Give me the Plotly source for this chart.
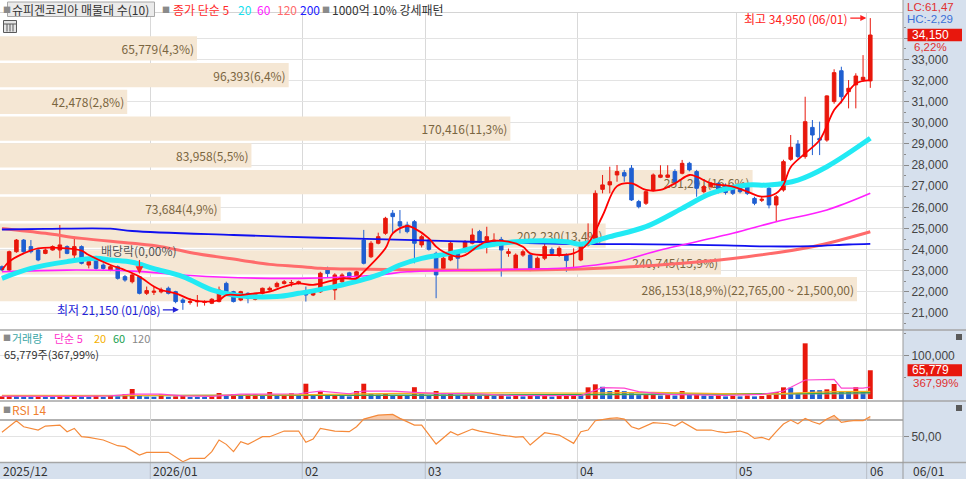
import numpy as np
import plotly.graph_objects as go

# ===================== DATA =====================
stock_name = "슈피겐코리아"
month_first_idx = [0, 21, 42, 59, 80, 102, 120]
month_labels = ["2025/12", "2026/01", "02", "03", "04", "05", "06"]
last_date_label = "06/01"
low_date_label = "01/08"
ex_div_idx = 19
lc_pct = 61.47
hc_pct = -2.29
vol_ratio_pct = 367.99

opens = [23190, 23030, 23900, 24450, 24140, 23980, 23820, 23980, 23980, 24140,
         23740, 24140, 23270, 23660, 23270, 23030, 23190, 22720, 22480, 22720,
         21930, 21980, 22000, 22170, 22010, 21615, 21500, 21530, 21500, 21460,
         21540, 22400, 22010, 21615, 21930, 21650, 21930, 22090, 22245, 22400,
         22420, 22400, 22010, 21850, 22000, 23030, 22090, 22480, 22900, 22720,
         24450, 23660, 24300, 24770, 25720, 25320, 25160, 25320, 24220, 24450,
         23820, 23110, 23510, 23820, 23900, 24300, 24850, 24140, 24220, 24480,
         23820, 23110, 23740, 23740, 23110, 23590, 24010, 23740, 23740, 23100,
         23510, 24220, 24300, 26850, 27060, 27530, 27640, 27850, 26270, 26190,
         26820, 27420, 27420, 27690, 27610, 28080, 27690, 26740, 26980, 27130,
         27010, 26980, 26980, 27060, 26420, 26330, 26900, 26110, 26820, 28270,
         28990, 28400, 29780, 29260, 29180, 31000, 32460, 31470, 31790, 32020,
         31980]
highs = [23250, 23950, 24500, 24500, 24450, 24050, 24050, 24200, 25160, 24200,
         24610, 24200, 23510, 23700, 23350, 23270, 23250, 22800, 22880, 22750,
         22250, 22250, 22200, 22250, 22050, 21700, 21700, 21850, 21600, 21700,
         22250, 22480, 22050, 22050, 21980, 21950, 22200, 22250, 22480, 22560,
         22560, 22530, 22250, 22100, 22950, 23190, 22880, 22880, 22950, 23000,
         24930, 24400, 24800, 25550, 25870, 25870, 25320, 25400, 24700, 24530,
         23900, 23650, 24400, 23900, 24450, 25000, 24930, 25080, 24770, 24600,
         24050, 23820, 24000, 23820, 23670, 24300, 24100, 24150, 23820, 24060,
         24300, 25240, 26800, 27530, 27920, 28000, 27770, 28000, 26350, 26800,
         27600, 27990, 27990, 27800, 28240, 28150, 27770, 27050, 27200, 27200,
         27130, 27060, 27050, 27130, 26500, 26500, 26980, 26580, 28250, 29420,
         29180, 31230, 30130, 30050, 31300, 32530, 32650, 32020, 32340, 33200,
         34950]
lows = [22980, 22980, 23850, 23850, 23820, 23450, 23780, 23950, 23590, 23780,
        23510, 23300, 23110, 23050, 23050, 22980, 22580, 22480, 22400, 21880,
        21850, 21850, 21930, 21880, 21460, 21150, 21400, 21300, 21350, 21420,
        21500, 21850, 21500, 21560, 21460, 21600, 21880, 22050, 22200, 22350,
        22250, 22350, 21540, 21800, 21950, 22690, 21620, 22400, 22600, 22650,
        23300, 23600, 24250, 24700, 24770, 24770, 24770, 23350, 24100, 23950,
        21700, 23050, 23450, 23030, 23850, 24250, 24300, 23820, 24150, 22720,
        23660, 23030, 23660, 22980, 23050, 23500, 23700, 23660, 22950, 23030,
        23450, 24150, 24250, 26660, 26660, 27210, 27210, 26300, 25950, 26110,
        26760, 27380, 27380, 27150, 27560, 27700, 26500, 26660, 26900, 26660,
        26600, 26580, 26660, 26580, 26100, 26250, 25950, 25320, 26740, 28200,
        28320, 28300, 28470, 28470, 29100, 30900, 30920, 30680, 30680, 31950,
        31650]
closes = [23040, 23900, 24450, 23900, 23900, 23510, 23980, 24140, 24220, 23820,
          24140, 23350, 23430, 23110, 23110, 23190, 22640, 22560, 22800, 21930,
          22060, 22030, 22090, 21930, 21540, 21500, 21540, 21560, 21530, 21650,
          22090, 22010, 21540, 22010, 21690, 21930, 22170, 22170, 22400, 22480,
          22440, 22480, 21850, 22010, 22880, 22870, 22800, 22800, 22690, 22950,
          23350, 24300, 24610, 25480, 25560, 25115, 24850, 24300, 24610, 24010,
          22800, 23590, 24300, 23590, 24370, 24690, 24370, 24610, 24450, 23980,
          23900, 23740, 23900, 23030, 23590, 24140, 23820, 24060, 23480, 23150,
          24220, 24370, 26660, 27060, 27210, 27690, 27480, 26350, 26030, 26740,
          27530, 27530, 27530, 27210, 28080, 27770, 26900, 26980, 27130, 26740,
          26700, 26660, 26740, 26660, 26190, 26380, 26110, 26500, 28160, 28840,
          28400, 30050, 29420, 29180, 31270, 32370, 31230, 31630, 32210, 32150,
          34150]
volumes = [6000, 9000, 6500, 5000, 4000, 5000, 3500, 3000, 9000, 4000,
           7000, 5500, 4000, 8000, 4500, 9000, 6000, 11400, 22900, 8000,
           5500, 5000, 10700, 5000, 6000, 7000, 4500, 4000, 3500, 6000,
           13700, 8000, 11400, 9000, 11400, 11400, 9000, 16000, 8000, 9500,
           13000, 7000, 35000, 9000, 18300, 7000, 9000, 8000, 6000, 18300,
           35000, 12000, 10000, 12000, 8000, 9000, 8000, 27000, 11000, 9000,
           18300, 10000, 12000, 8000, 9000, 10000, 7000, 9000, 7000, 10000,
           6000, 8000, 6000, 9000, 7000, 8000, 5500, 7000, 8000, 10000,
           9000, 26700, 33600, 28000, 18300, 20600, 18000, 13000, 9000, 10000,
           12000, 8000, 9000, 8000, 18300, 10000, 11000, 8000, 7000, 9000,
           6000, 7000, 6000, 8000, 6000, 7000, 9000, 16000, 26700, 26000,
           13000, 127400, 20600, 20200, 22100, 34300, 18300, 17800, 27000, 17875,
           65779]

ma5_idx = [0, 1, 3, 5, 9, 11, 12, 15, 17, 19, 21, 22, 24, 26, 28, 30, 31, 33, 35, 37,
           39, 41, 43, 47, 49, 50, 53, 54, 56, 57, 59, 60, 61, 63, 64, 66, 67, 70, 72, 73,
           76, 79, 81, 83, 85, 87, 89, 91, 93, 95, 96, 98, 101, 103, 105, 107, 108, 109, 111, 113,
           115, 116, 118, 120]
ma5_val = [23030, 23430, 23820, 24060, 24060, 23950, 23740, 23270, 23030, 22720,
           22250, 22088, 21930, 21650, 21540, 21615, 21850, 21850, 21930, 22010,
           22245, 22403, 22330, 22640, 22640, 22950, 24060, 24770, 25115, 25005,
           24530, 24140, 23900, 23664, 23740, 24216, 24374, 24374, 24138, 23822,
           23743, 23822, 24300, 25600, 27000, 27134, 26819, 26819, 27134, 27528,
           27450, 27134, 26976, 26740, 26503, 26661, 27055, 27900, 28550, 29180,
           30600, 31000, 31860, 32020]
ma20_idx = [0, 4, 9, 13, 15, 18, 21, 25, 29, 32, 38, 41, 46, 52, 55, 58, 62, 66, 71, 78,
            80, 84, 89, 94, 98, 103, 106, 110, 114, 120]
ma20_val = [22640, 23110, 23430, 23590, 23510, 23400, 23100, 22720, 22090, 21850,
            21780, 21930, 22245, 22800, 23270, 23585, 23820, 24136, 24370, 24370,
            24250, 24610, 25083, 25950, 26660, 27055, 27055, 27290, 27920, 29263]
ma60_idx = [0, 9, 18, 25, 30, 41, 52, 56, 66, 78, 80, 85, 91, 101, 107, 114, 120]
ma60_val = [22950, 23030, 22980, 22800, 22700, 22640, 22800, 22950, 23034, 23128,
            23191, 23420, 23980, 24770, 25320, 25872, 26660]
ma120_idx = [0, 6, 11, 18, 22, 27, 33, 37, 41, 44, 48, 60, 73, 80, 85, 94, 103, 112, 120]
ma120_val = [25000, 24770, 24530, 24300, 24140, 23800, 23500, 23300, 23200, 23113,
             23080, 23034, 23034, 23080, 23150, 23350, 23665, 24136, 24846]
ma200_idx = [0, 6, 15, 18, 32, 44, 57, 65, 74, 80, 90, 100, 106, 112, 117, 120]
ma200_val = [24950, 24980, 24990, 24880, 24690, 24560, 24450, 24370, 24300, 24260,
             24250, 24200, 24150, 24160, 24240, 24270]

vma5_idx = [0, 5, 10, 15, 18, 22, 25, 29, 33, 38, 41, 44, 48, 50, 54, 57, 60, 66, 70, 75,
            80, 83, 86, 88, 92, 100, 105, 108, 111, 115, 116, 119, 120]
vma5_val = [6500, 6000, 6000, 7000, 11400, 11000, 7000, 6000, 11000, 11400,
            12000, 18000, 12000, 18300, 18000, 15000, 13000, 12000, 8000, 7500,
            8000, 26000, 25000, 16800, 10700, 8000, 10700, 18300, 43500, 45000,
            25000, 25000, 27500]
vma20_idx = [0, 20, 40, 55, 70, 80, 90, 100, 105, 110, 115, 120]
vma20_val = [8500, 8000, 9500, 13000, 14000, 13500, 15000, 11000, 10700, 14000, 16800, 17500]
vma60_idx = [0, 30, 60, 90, 105, 110, 120]
vma60_val = [7000, 7500, 9000, 11000, 11500, 12500, 14500]
vma120_idx = [0, 60, 120]
vma120_val = [7500, 8500, 12000]

rsi_idx = [0, 2, 3, 5, 6, 8, 9, 10, 11, 12, 14, 16, 17, 19, 20, 23, 25, 26, 28, 29,
           30, 31, 32, 33, 34, 36, 37, 39, 41, 42, 43, 44, 46, 48, 49, 50, 52, 54, 55, 57,
           58, 60, 62, 63, 65, 66, 69, 71, 72, 73, 75, 77, 79, 80, 81, 82, 84, 85, 86, 87,
           88, 90, 92, 93, 94, 96, 98, 99, 100, 102, 103, 104, 105, 106, 107, 108, 109, 110, 111, 112,
           113, 114, 115, 116, 117, 118, 119, 120]
rsi_val = [55.3, 69.2, 62, 58, 62.8, 64, 56, 60, 50, 49.2, 46, 39.2, 38, 28, 31.2, 31.2, 20, 24, 24, 32,
           46, 40.8, 32, 44, 40.8, 50, 50, 56.8, 56.8, 43.2, 47.2, 60, 56.8, 56, 62, 71.2, 76, 76.8, 72, 64,
           64, 41.2, 56, 52, 59.2, 56.8, 52, 49.6, 50, 40, 54.8, 52, 42, 56, 58, 69.2, 72, 72.8, 71.2, 62,
           59.2, 66.8, 65.6, 62.8, 68, 58, 58, 56, 55, 56.8, 54, 48, 49.2, 46.4, 56, 65.2, 70, 65.6, 72, 68,
           65.2, 71.2, 75.6, 67.2, 68.8, 69.6, 69.2, 74.4]

profile_lo = [21500, 22765, 24030, 25295, 26560, 27825, 29090, 30355, 31620, 32885]
profile_hi = [22765, 24030, 25295, 26560, 27825, 29090, 30355, 31620, 32885, 34150]
profile_vol = [286153, 240745, 202230, 73684, 251291, 83958, 170416, 42478, 96393, 65779]
profile_pct = [18.9, 15.9, 13.4, 4.9, 16.6, 5.5, 11.3, 2.8, 6.4, 4.3]

price_ticks = list(range(21000, 34001, 1000))
vol_ticks = [100000]
rsi_ticks = [50]
rsi_upper = 70

# ===================== HELPERS =====================
PW, PH = 903.0, 463.0
def X(px):
    return px / PW
def Y(py):
    return (PH - py) / PH
def kfmt(v, d):
    return f"{v:,.{d}f}".replace(".", "#").replace("#", ",") if d else f"{v:,}"

UP = "#e8180c"
DN = "#1f5fd1"
FONT = "Noto Sans CJK KR, DejaVu Sans"
NUMF = "Liberation Sans, Noto Sans CJK KR"
idx = list(range(len(closes)))
XR = [-0.27, 124.52]

fig = go.Figure()

# base subplot (x, y): invisible anchor trace
fig.add_trace(go.Scatter(x=[idx[0]], y=[closes[0]], mode="markers", marker=dict(opacity=0),
                         xaxis="x", yaxis="y", hoverinfo="skip"))

# volume profile (overlay axis x2, drawn below candles on x3)
imax = int(np.argmax(profile_vol))
p_lab, p_mid, p_h = [], [], []
for k, (lo, hi, v, p) in enumerate(zip(profile_lo, profile_hi, profile_vol, profile_pct)):
    s = f"{v:,}({kfmt(p, 1)}%)"
    if k == imax:
        s += f"({hi:,},00 ~ {lo:,},00)"
    p_lab.append(s)
    p_mid.append((lo + hi) / 2)
    p_h.append((hi - lo) * 0.91)
fig.add_trace(go.Bar(x=profile_vol, y=p_mid, width=p_h, orientation="h", base=0,
                     marker=dict(color="#f5e7d4", line=dict(width=0)),
                     text=p_lab, textposition="inside", insidetextanchor="end", textangle=0,
                     constraintext="none", insidetextfont=dict(size=12, color="#7a6540", family=FONT),
                     xaxis="x2", yaxis="y", hoverinfo="skip"))

# moving averages (price)
fig.add_trace(go.Scatter(x=ma120_idx, y=ma120_val, mode="lines", line=dict(color="#ff6b6b", width=3, shape="spline"),
                         xaxis="x3", yaxis="y", hoverinfo="skip"))
fig.add_trace(go.Scatter(x=ma200_idx, y=ma200_val, mode="lines", line=dict(color="#1010f0", width=1.8, shape="spline"),
                         xaxis="x3", yaxis="y", hoverinfo="skip"))
fig.add_trace(go.Scatter(x=ma60_idx, y=ma60_val, mode="lines", line=dict(color="#ff20ff", width=1.6, shape="spline"),
                         xaxis="x3", yaxis="y", hoverinfo="skip"))
fig.add_trace(go.Scatter(x=ma20_idx, y=ma20_val, mode="lines", line=dict(color="#22eaf4", width=5, shape="spline"),
                         xaxis="x3", yaxis="y", hoverinfo="skip"))

fig.add_trace(go.Candlestick(x=idx, open=opens, high=highs, low=lows, close=closes,
                             increasing=dict(line=dict(color=UP, width=1), fillcolor=UP),
                             decreasing=dict(line=dict(color=DN, width=1), fillcolor=DN),
                             whiskerwidth=0, xaxis="x3", yaxis="y", hoverinfo="skip"))

fig.add_trace(go.Scatter(x=ma5_idx, y=ma5_val, mode="lines", line=dict(color="#ff0000", width=1.8, shape="spline"),
                         xaxis="x3", yaxis="y", hoverinfo="skip"))

# volume
vcolors = [UP if (i == 0 or volumes[i] >= volumes[i - 1]) else DN for i in idx]
fig.add_trace(go.Bar(x=idx, y=volumes, marker=dict(color=vcolors, line=dict(width=0)), width=0.68,
                     xaxis="x", yaxis="y2", hoverinfo="skip"))
for vi, vv, vc in [(vma120_idx, vma120_val, "#9a9a9a"), (vma60_idx, vma60_val, "#2fa84f"),
                   (vma20_idx, vma20_val, "#f5b01e"), (vma5_idx, vma5_val, "#ff44d0")]:
    fig.add_trace(go.Scatter(x=vi, y=vv, mode="lines", line=dict(color=vc, width=1.2),
                             xaxis="x", yaxis="y2", hoverinfo="skip"))

# RSI
fig.add_trace(go.Scatter(x=rsi_idx, y=[rsi_upper] * len(rsi_idx), mode="lines", line=dict(width=0),
                         xaxis="x", yaxis="y3", hoverinfo="skip"))
fig.add_trace(go.Scatter(x=rsi_idx, y=np.maximum(np.array(rsi_val), rsi_upper), mode="lines", line=dict(width=0),
                         fill="tonexty", fillcolor="rgba(240,140,70,0.45)", xaxis="x", yaxis="y3", hoverinfo="skip"))
fig.add_trace(go.Scatter(x=rsi_idx, y=rsi_val, mode="lines", line=dict(color="#f58a3a", width=1.2),
                         xaxis="x", yaxis="y3", hoverinfo="skip"))

# ===================== SHAPES =====================
shapes = []
PANEL = "#d6e0ed"
shapes.append(dict(type="rect", xref="paper", yref="paper", x0=1, x1=966 / PW, y0=Y(479), y1=1,
                   fillcolor=PANEL, line=dict(width=0), layer="below"))
shapes.append(dict(type="rect", xref="paper", yref="paper", x0=0, x1=1, y0=Y(479), y1=Y(463),
                   fillcolor=PANEL, line=dict(width=0), layer="below"))

# RSI upper line
shapes.append(dict(type="line", xref="x", yref="y3", x0=XR[0], x1=XR[1], y0=rsi_upper, y1=rsi_upper,
                   line=dict(color="#b2b2b2", width=2), layer="below"))

# month separators in date strip
for m in month_first_idx[1:]:
    shapes.append(dict(type="line", xref="x", yref="paper", x0=m - 0.5, x1=m - 0.5, y0=Y(479), y1=Y(463),
                       line=dict(color="#b8bec8", width=1)))

# panel separators
for yy in [330, 401, 462.5]:
    shapes.append(dict(type="line", xref="paper", yref="paper", x0=0, x1=966 / PW, y0=Y(yy), y1=Y(yy),
                       line=dict(color="#a6a6a6", width=1.6)))
shapes.append(dict(type="line", xref="paper", yref="paper", x0=0, x1=1, y0=Y(12.5), y1=Y(12.5),
                   line=dict(color="#d4d4d4", width=1)))
shapes.append(dict(type="line", xref="paper", yref="paper", x0=1, x1=1, y0=Y(479), y1=1,
                   line=dict(color="#9a9a9a", width=1)))

# header box and grid icon
shapes.append(dict(type="rect", xref="paper", yref="paper", x0=X(7.5), x1=X(154.5), y0=Y(16.5), y1=Y(2),
                   fillcolor="#ebebeb", line=dict(color="#a8a8a8", width=1)))
shapes.append(dict(type="rect", xref="paper", yref="paper", x0=X(3.5), x1=X(16.5), y0=Y(32.5), y1=Y(20.5),
                   fillcolor="#e4e4e4", line=dict(color="#5a5a5a", width=1)))
for gx in [7, 10, 13]:
    shapes.append(dict(type="line", xref="paper", yref="paper", x0=X(gx), x1=X(gx), y0=Y(31.5), y1=Y(24),
                       line=dict(color="#5a5a5a", width=1)))
shapes.append(dict(type="line", xref="paper", yref="paper", x0=X(4), x1=X(16), y0=Y(24), y1=Y(24),
                   line=dict(color="#5a5a5a", width=1)))

# right-panel value boxes
shapes.append(dict(type="rect", xref="paper", yref="y", x0=X(907.5), x1=X(962), y0=closes[-1] - 295,
                   y1=closes[-1] + 295, fillcolor="#e8170d", line=dict(width=0)))
shapes.append(dict(type="rect", xref="paper", yref="y2", x0=X(907.5), x1=X(962), y0=volumes[-1] - 13800,
                   y1=volumes[-1] + 13800, fillcolor="#e8170d", line=dict(width=0)))
for iy in [337, 408]:
    shapes.append(dict(type="rect", xref="paper", yref="paper", x0=X(956), x1=X(962), y0=Y(iy + 3), y1=Y(iy - 3),
                       fillcolor="#5a5a5a", line=dict(width=0)))

# ===================== ANNOTATIONS =====================
ann = []
def txt(px, py, s, color="#333333", size=12, anchor="left", family=FONT):
    ann.append(dict(xref="paper", yref="paper", x=X(px), y=Y(py), text=s, showarrow=False,
                    xanchor=anchor, yanchor="middle", font=dict(color=color, size=size, family=family)))

# header
txt(1, 9, "■", "#8a8a8a", 8)
txt(10, 9.5, f"{stock_name} 매물대 수(10)", "#333333", 12)
txt(160, 9, "■", "#8a8a8a", 8)
txt(171, 9.5, "종가 단순 5", "#ff2a2a", 12)
txt(236, 9.5, "20", "#19e0ee", 12)
txt(255, 9.5, "60", "#ff22ff", 12)
txt(275, 9.5, "120", "#ff6b6b", 12)
txt(298, 9.5, "200", "#2020ff", 12)
txt(320, 9, "■", "#8a8a8a", 8)
txt(330, 9.5, "1000억 10% 강세패턴", "#333333", 12)

# volume header
txt(1, 337.5, "■", "#8a8a8a", 8)
txt(10, 337.5, "거래량", "#3ba6a6", 11)
txt(52, 337.5, "단순 5", "#ff33cc", 11)
txt(92, 337.5, "20", "#f5b000", 11)
txt(111, 337.5, "60", "#20a050", 11)
txt(130, 337.5, "120", "#888888", 11)
txt(2, 353.5, f"{volumes[-1]:,}주({kfmt(vol_ratio_pct, 2)}%)", "#333333", 11)

# RSI header
txt(1, 409.5, "■", "#8a8a8a", 8)
txt(10, 409.5, "RSI 14", "#f08030", 12)

# right panel
txt(905, 7, f"LC:{kfmt(lc_pct, 2)}", "#e03030", 11.5, family=NUMF)
txt(905, 19, f"HC:{kfmt(hc_pct, 2)}", "#3a70d8", 11.5, family=NUMF)
chg = (closes[-1] / closes[-2] - 1) * 100
ann.append(dict(xref="paper", yref="y", x=X(910), y=closes[-1], text=f"{closes[-1]:,}", showarrow=False,
                xanchor="left", yanchor="middle", font=dict(color="white", size=12, family=NUMF)))
ann.append(dict(xref="paper", yref="y", x=X(912), y=closes[-1], yshift=-12, text=f"{kfmt(chg, 2)}%",
                showarrow=False, xanchor="left", yanchor="middle", font=dict(color="#e03030", size=11.5, family=NUMF)))
ann.append(dict(xref="paper", yref="y2", x=X(910), y=volumes[-1], text=f"{volumes[-1]:,}", showarrow=False,
                xanchor="left", yanchor="middle", font=dict(color="white", size=12, family=NUMF)))
ann.append(dict(xref="paper", yref="y2", x=X(911), y=volumes[-1], yshift=-12.5, text=f"{kfmt(vol_ratio_pct, 2)}%",
                showarrow=False, xanchor="left", yanchor="middle", font=dict(color="#e03030", size=11.5, family=NUMF)))
txt(911, 470, last_date_label, "#333333", 12)

# date strip labels
txt(1, 470, month_labels[0], "#333333", 12)
for m, lab in zip(month_first_idx[1:], month_labels[1:]):
    ann.append(dict(xref="x", yref="paper", x=m - 0.5, xshift=1, y=Y(470), text=lab, showarrow=False,
                    xanchor="left", yanchor="middle", font=dict(color="#333333", size=12, family=FONT)))

# high / low / ex-dividend markers
ih = int(np.argmax(highs))
il = int(np.argmin(lows))
ann.append(dict(xref="x", yref="y", x=ih, y=highs[ih], ax=-20, ay=0, text=f"최고 {highs[ih]:,} ({last_date_label})",
                showarrow=True, arrowhead=2, arrowsize=1, arrowwidth=1.2, arrowcolor="#ff2020", standoff=4,
                xanchor="right", yanchor="middle", font=dict(color="#ff2020", size=12, family=FONT)))
ann.append(dict(xref="x", yref="y", x=il, y=lows[il], ax=-20, ay=0, text=f"최저 {lows[il]:,} ({low_date_label})",
                showarrow=True, arrowhead=2, arrowsize=1, arrowwidth=1.2, arrowcolor="#2424d8", standoff=4,
                xanchor="right", yanchor="middle", font=dict(color="#2424d8", size=12, family=FONT)))
ann.append(dict(xref="x", yref="y", x=ex_div_idx, y=highs[ex_div_idx], ax=0, ay=-26, text="배당락(0,00%)",
                showarrow=True, arrowhead=2, arrowsize=1.3, arrowwidth=1.2, arrowcolor="#ff2020", standoff=2,
                font=dict(color="#555555", size=12, family=FONT)))

# ===================== LAYOUT =====================
ytext = ["" if abs(v - closes[-1]) < 600 else f"{v:,}" for v in price_ticks]
TF = dict(size=12, color="#444444", family=NUMF)
fig.update_layout(
    width=966, height=479, margin=dict(l=0, r=63, t=0, b=16),
    paper_bgcolor="white", plot_bgcolor="white", showlegend=False, hovermode=False,
    font=dict(family=FONT, size=12, color="#333333"),
    xaxis=dict(domain=[0, 1], range=XR, anchor="y3", tickmode="array",
               tickvals=[m - 0.5 for m in month_first_idx], showticklabels=False, ticks="",
               showgrid=True, gridcolor="#d9d9d9", gridwidth=1, zeroline=False, showline=False,
               rangeslider=dict(visible=False), fixedrange=True),
    xaxis2=dict(overlaying="x", anchor="y", range=[0, 301512], visible=False, fixedrange=True),
    xaxis3=dict(overlaying="x", anchor="y", range=XR, visible=False, showgrid=False,
                rangeslider=dict(visible=False), fixedrange=True),
    yaxis=dict(domain=[Y(330), Y(12.5)], range=[20196, 35215], side="right", anchor="x",
               tickmode="array", tickvals=price_ticks, ticktext=ytext,
               showgrid=True, gridcolor="#e3e3e3", zeroline=False, showline=False,
               ticks="outside", ticklen=5, tickcolor="#8a8a8a", tickfont=TF,
               minor=dict(tickmode="array", tickvals=[v + 500 for v in price_ticks] + [price_ticks[0] - 500],
                          ticks="outside", ticklen=2, tickcolor="#8a8a8a", showgrid=False),
               fixedrange=True),
    yaxis2=dict(domain=[Y(401), Y(330)], range=[-4577, 157900], side="right", anchor="x",
                tickmode="array", tickvals=vol_ticks, ticktext=[f"{v:,}" for v in vol_ticks],
                showgrid=True, gridcolor="#e3e3e3", zeroline=False, showline=False,
                ticks="outside", ticklen=5, tickcolor="#8a8a8a", tickfont=TF,
                minor=dict(tickmode="array", tickvals=[50000, 150000], ticks="outside", ticklen=2,
                           tickcolor="#8a8a8a", showgrid=False),
                fixedrange=True),
    yaxis3=dict(domain=[Y(462), Y(401)], range=[19.6, 92.9], side="right", anchor="x",
                tickmode="array", tickvals=rsi_ticks, ticktext=[kfmt(v, 2) for v in rsi_ticks],
                showgrid=True, gridcolor="#e3e3e3", zeroline=False, showline=False,
                ticks="outside", ticklen=5, tickcolor="#8a8a8a", tickfont=TF,
                fixedrange=True),
    shapes=shapes, annotations=ann,
)

fig.write_html("out.html", config={"displayModeBar": False},
               post_script="document.body.style.margin='0';")
